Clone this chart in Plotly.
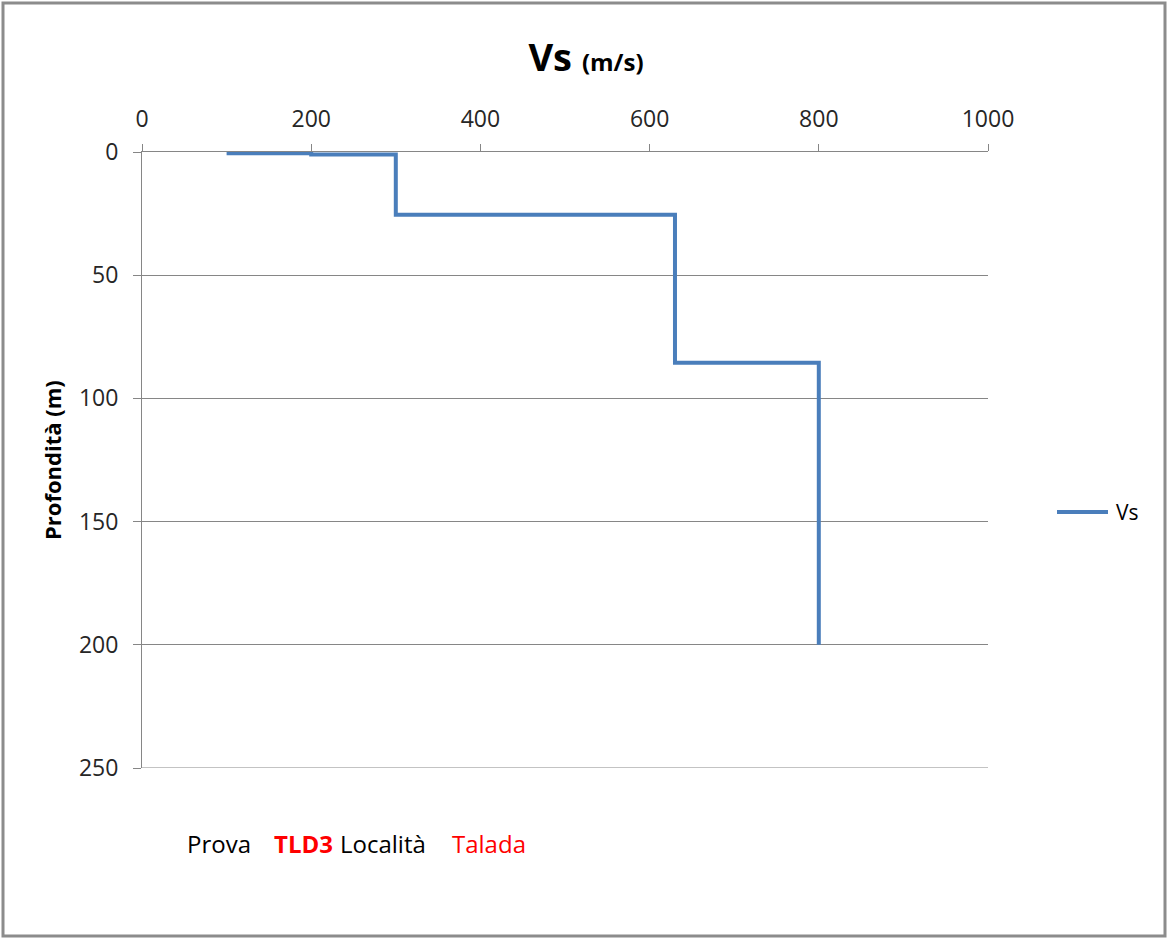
import plotly.graph_objects as go

# Data (step profile of Vs vs depth)
vs_values = [100, 200, 200, 300, 300, 630, 630, 800, 800]
depth_values = [0.5, 0.5, 1, 1, 25.5, 25.5, 85.5, 85.5, 200]
x_ticks = [0, 200, 400, 600, 800, 1000]
y_ticks = [0, 50, 100, 150, 200, 250]
series_name = "Vs"

FONT = "Open Sans"
GRID = "#868686"
TICKCOL = "#262626"
LINECOL = "#4A7EBB"

fig = go.Figure()
fig.add_trace(go.Scatter(
    x=vs_values, y=depth_values, mode="lines", name=series_name,
    line=dict(color=LINECOL, width=4), showlegend=False,
))

L, R, T, B = 142, 180, 152, 172
W, H = 1168, 940
pw, ph = W - L - R, H - T - B

def px_x(p):
    return (p - L) / pw

def px_y(p):
    return (H - B - p) / ph

fig.update_layout(
    width=W, height=H,
    margin=dict(l=L, r=R, t=T, b=B),
    paper_bgcolor="white", plot_bgcolor="white",
    font=dict(family=FONT, color=TICKCOL),
    title=dict(
        text="<b>Vs</b> <b><span style='font-size:24px'>(m/s)</span></b>",
        x=586 / W, xref="container", xanchor="center",
        y=1 - 58 / H, yref="container", yanchor="middle",
        font=dict(family=FONT, size=38, color="black"),
    ),
    xaxis=dict(
        side="top", range=[0, 1000], tickvals=x_ticks,
        ticktext=[str(v) for v in x_ticks],
        showgrid=False, zeroline=False,
        showline=True, linecolor=GRID, linewidth=1,
        ticks="outside", ticklen=7, tickcolor=GRID, tickwidth=1,
        tickfont=dict(family=FONT, size=23, color=TICKCOL),
        ticklabelstandoff=8,
    ),
    yaxis=dict(
        range=[250, 0], tickvals=y_ticks,
        ticktext=[str(v) for v in y_ticks],
        showgrid=True, gridcolor=GRID, gridwidth=1, zeroline=False,
        showline=True, linecolor=GRID, linewidth=1,
        ticks="outside", ticklen=8, tickcolor=GRID, tickwidth=1,
        tickfont=dict(family=FONT, size=23, color=TICKCOL),
        ticklabelstandoff=10,
    ),
    showlegend=False,
)

# Bottom gridline at the end of the depth range
fig.add_shape(
    type="line", xref="paper", yref="y",
    x0=0, x1=1, y0=y_ticks[-1], y1=y_ticks[-1],
    line=dict(color=GRID, width=1),
)

# Outer chart border
fig.add_shape(
    type="rect", xref="paper", yref="paper",
    x0=px_x(3), x1=px_x(1165), y0=px_y(936), y1=px_y(3),
    line=dict(color="#8C8C8C", width=3), fillcolor="rgba(0,0,0,0)",
)

# Legend (line sample + label)
fig.add_shape(
    type="line", xref="paper", yref="paper",
    x0=px_x(1057), x1=px_x(1108), y0=px_y(512), y1=px_y(512),
    line=dict(color=LINECOL, width=4),
)
fig.add_annotation(
    text=series_name, xref="paper", yref="paper",
    x=px_x(1114), y=px_y(512), xanchor="left", yanchor="middle",
    showarrow=False, font=dict(family=FONT, size=21, color="black"),
)

# Y axis title
fig.add_annotation(
    text="<b>Profondità (m)</b>", xref="paper", yref="paper",
    x=px_x(52), y=0.5, textangle=-90, showarrow=False,
    xanchor="center", yanchor="middle",
    font=dict(family=FONT, size=22, color="black"),
)

# Bottom info text
info = [
    ("Prova", 185, "black", False),
    ("TLD3", 272, "#FF0000", True),
    ("Località", 338, "black", False),
    ("Talada", 450, "#FF0000", False),
]
for txt, xp, col, bold in info:
    fig.add_annotation(
        text=f"<b>{txt}</b>" if bold else txt,
        xref="paper", yref="paper", x=px_x(xp), y=px_y(843),
        xanchor="left", yanchor="middle", showarrow=False,
        font=dict(family=FONT, size=24, color=col),
    )

fig.write_html(
    "out.html",
    config={"displayModeBar": False},
    post_script="document.body.style.margin='0';document.body.style.padding='0';",
)
